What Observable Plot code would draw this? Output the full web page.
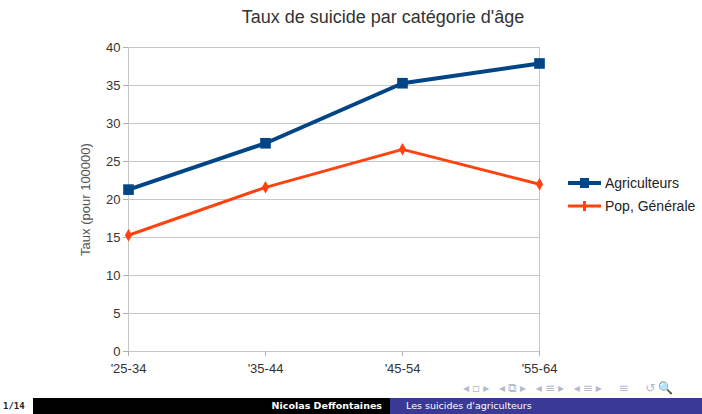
<!DOCTYPE html>
<html>
<head>
<meta charset="utf-8">
<script src="https://cdn.jsdelivr.net/npm/d3@7"></script>
<script src="https://cdn.jsdelivr.net/npm/@observablehq/plot@0.6"></script>
<style>
  html, body { margin:0; padding:0; background:#fff; }
  #page { position:relative; width:702px; height:414px; overflow:hidden; font-family:"Liberation Sans", Arial, sans-serif; }
  #title { position:absolute; top:7px; left:383px; transform:translateX(-50%); font-size:18px; color:#333; white-space:nowrap; }
  #chart { position:absolute; top:38px; left:0; }
  #legend { position:absolute; left:568px; top:171px; font-size:14px; color:#222; }
  .lrow { display:flex; align-items:center; height:23px; }
  .lrow svg { margin-right:4px; }
  #nav { position:absolute; top:381px; left:463px; font-size:12px; color:#b4b8d0; white-space:nowrap; letter-spacing:3px; font-family:"DejaVu Sans", sans-serif; }
  #pg { position:absolute; left:3px; top:401px; font-size:9px; font-weight:bold; font-family:"DejaVu Sans Mono", monospace; color:#222; }
  #barL { position:absolute; left:33px; top:398px; width:357px; height:16px; background:#000; color:#fff; font-size:9.5px; font-weight:bold; font-family:"DejaVu Sans", sans-serif; text-align:right; box-sizing:border-box; padding-right:8px; line-height:16px; }
  #barR { position:absolute; left:390px; top:398px; width:312px; height:16px; background:#3a3a96; color:#fff; font-size:9.5px; font-family:"DejaVu Sans", sans-serif; box-sizing:border-box; padding-left:16px; line-height:16px; }
</style>
</head>
<body>
<div id="page">
  <div id="title"></div>
  <div id="chart"></div>
  <div id="legend"></div>
  <div id="nav">◂▫▸ ◂⧉▸ ◂≡▸ ◂≡▸ &nbsp;≡ &nbsp;↺🔍</div>
  <div id="pg">1/14</div>
  <div id="barL">Nicolas Deffontaines</div>
  <div id="barR">Les suicides d'agriculteurs</div>
</div>
<script>
const titleText = "Taux de suicide par catégorie d'âge";
const yLabel = "Taux (pour 100000)";
const categories = ["'25-34", "'35-44", "'45-54", "'55-64"];
const agriculteurs = [21.3, 27.4, 35.3, 37.9];
const popGenerale = [15.3, 21.6, 26.6, 22.0];
const seriesNames = ["Agriculteurs", "Pop, Générale"];
const seriesColors = ["#004586", "#ff420e"];
const yTicks = [0, 5, 10, 15, 20, 25, 30, 35, 40];

document.getElementById("title").textContent = titleText;

const rows = [];
categories.forEach((c, i) => {
  rows.push({cat: c, value: agriculteurs[i], series: seriesNames[0]});
});
categories.forEach((c, i) => {
  rows.push({cat: c, value: popGenerale[i], series: seriesNames[1]});
});
const agri = rows.filter(d => d.series === seriesNames[0]);
const pop = rows.filter(d => d.series === seriesNames[1]);

const chart = Plot.plot({
  width: 702,
  height: 342,
  marginTop: 9,
  marginBottom: 29,
  marginLeft: 128,
  marginRight: 163,
  style: {fontFamily: "'Liberation Sans', Arial, sans-serif", fontSize: "13px", color: "#333", background: "transparent"},
  x: {type: "point", domain: categories, padding: 0},
  y: {domain: [0, 40]},
  marks: [
    Plot.ruleY(yTicks, {stroke: "#c6c6c6", strokeWidth: 1}),
    Plot.frame({stroke: "#c6c6c6", strokeWidth: 1}),
    Plot.axisY({ticks: yTicks, tickSize: 5, tickPadding: 3, stroke: "#b0b0b0", fill: "#333", fontSize: 13,
      label: yLabel, labelAnchor: "center", labelArrow: "none", labelOffset: 48}),
    Plot.axisX({tickSize: 5, tickPadding: 7, stroke: "#b0b0b0", fill: "#333", fontSize: 13, label: null}),
    Plot.line(agri, {x: "cat", y: "value", stroke: seriesColors[0], strokeWidth: 4}),
    Plot.dot(agri, {x: "cat", y: "value", symbol: "square", r: 6, fill: seriesColors[0], stroke: "none"}),
    Plot.line(pop, {x: "cat", y: "value", stroke: seriesColors[1], strokeWidth: 3}),
    Plot.dot(pop, {x: "cat", y: "value", symbol: "diamond", r: 3.8, fill: seriesColors[1], stroke: "none"})
  ]
});
chart.querySelectorAll("[aria-label='y-axis label'] text, g[aria-label='y-axis label']").forEach(el => { el.setAttribute("fill", "#555"); });
document.getElementById("chart").appendChild(chart);

// legend
const legend = document.getElementById("legend");
seriesNames.forEach((name, i) => {
  const row = document.createElement("div");
  row.className = "lrow";
  const ns = "http://www.w3.org/2000/svg";
  const s = document.createElementNS(ns, "svg");
  s.setAttribute("width", 33); s.setAttribute("height", 14);
  const ln = document.createElementNS(ns, "line");
  ln.setAttribute("x1", 0); ln.setAttribute("x2", 33); ln.setAttribute("y1", 7); ln.setAttribute("y2", 7);
  ln.setAttribute("stroke", seriesColors[i]); ln.setAttribute("stroke-width", i === 0 ? 4 : 3);
  s.appendChild(ln);
  if (i === 0) {
    const r = document.createElementNS(ns, "rect");
    r.setAttribute("x", 12); r.setAttribute("y", 2); r.setAttribute("width", 9); r.setAttribute("height", 10);
    r.setAttribute("fill", seriesColors[i]); s.appendChild(r);
  } else {
    const r = document.createElementNS(ns, "rect");
    r.setAttribute("x", 15); r.setAttribute("y", 2); r.setAttribute("width", 3); r.setAttribute("height", 10);
    r.setAttribute("fill", seriesColors[i]); s.appendChild(r);
  }
  row.appendChild(s);
  const t = document.createElement("span");
  t.textContent = name;
  row.appendChild(t);
  legend.appendChild(row);
});
</script>
</body>
</html>
